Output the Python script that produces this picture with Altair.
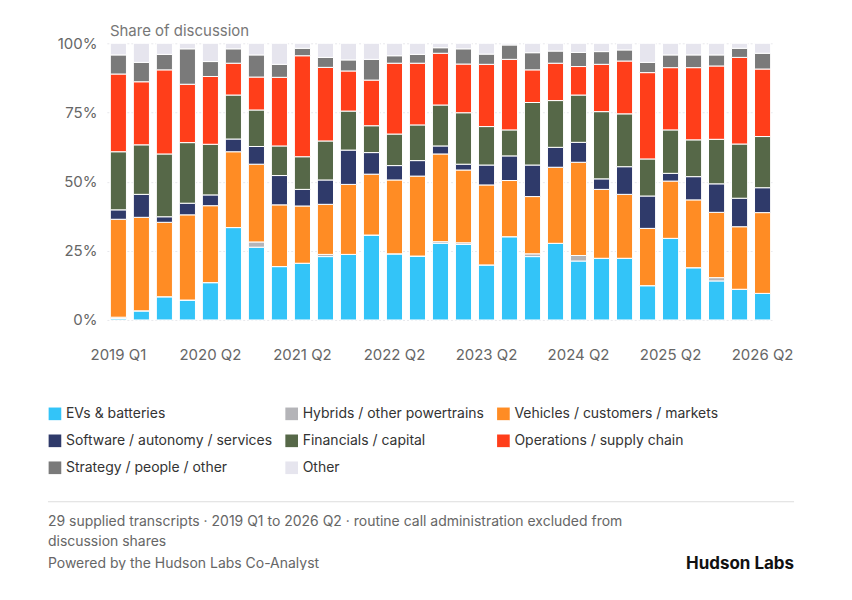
import pandas as pd
import altair as alt

quarters = ["2019 Q1", "2019 Q2", "2019 Q4", "2020 Q1", "2020 Q2", "2020 Q3", "2020 Q4",
            "2021 Q1", "2021 Q2", "2021 Q3", "2021 Q4", "2022 Q1", "2022 Q2", "2022 Q3",
            "2022 Q4", "2023 Q1", "2023 Q2", "2023 Q3", "2023 Q4", "2024 Q1", "2024 Q2",
            "2024 Q3", "2024 Q4", "2025 Q1", "2025 Q2", "2025 Q3", "2025 Q4", "2026 Q1",
            "2026 Q2"]
tick_labels = ["2019 Q1", "2020 Q2", "2021 Q2", "2022 Q2", "2023 Q2", "2024 Q2", "2025 Q2", "2026 Q2"]

categories = ["EVs & batteries", "Hybrids / other powertrains", "Vehicles / customers / markets",
              "Software / autonomy / services", "Financials / capital", "Operations / supply chain",
              "Strategy / people / other", "Other"]
colors = ["#33C4F8", "#B4B4B8", "#FF8C24", "#2F3A6A", "#566848", "#FF3E1A", "#7A7A7A", "#E6E5EE"]

ev = [0.5, 3.3, 8.4, 7.2, 13.5, 33.4, 26.3, 19.3, 20.5, 22.9, 23.7, 30.7, 23.9, 23.1, 27.7,
      27.3, 19.9, 30.1, 22.9, 27.7, 21.3, 22.3, 22.3, 12.4, 29.5, 18.9, 14.1, 11.1, 9.6]
hybrid = [0.5, 0, 0, 0, 0, 0, 1.9, 0, 0, 0.8, 0, 0, 0, 0, 0.6,
          0.6, 0, 0, 1.0, 0, 2.0, 0, 0, 0, 0, 0, 1.2, 0, 0]
vehicles = [35.4, 33.8, 26.9, 30.8, 27.8, 27.4, 28.1, 22.3, 20.7, 18.1, 25.3, 22.0, 26.7, 28.9, 31.7,
            26.3, 28.9, 20.3, 20.7, 27.5, 33.7, 24.9, 23.1, 20.7, 20.7, 24.5, 23.6, 22.6, 29.2]
software = [3.4, 8.3, 2.0, 4.2, 3.9, 4.6, 6.4, 10.6, 6.0, 8.8, 12.4, 7.8, 5.2, 5.6, 2.9,
            2.1, 7.2, 8.9, 11.4, 7.2, 7.2, 3.8, 10.0, 11.7, 2.8, 8.4, 10.3, 10.3, 9.0]
financials = [21.0, 17.9, 22.7, 21.9, 18.3, 15.9, 13.2, 10.7, 11.8, 14.1, 14.1, 9.7, 11.4, 12.9, 14.8,
              18.6, 13.9, 9.4, 22.6, 16.9, 17.1, 24.3, 19.1, 13.4, 15.7, 13.3, 16.1, 19.6, 18.5]
operations = [28.1, 22.8, 30.4, 21.1, 24.5, 11.5, 11.9, 24.8, 36.5, 26.6, 14.5, 16.5, 25.6, 22.3, 18.7,
              17.6, 22.5, 25.5, 11.8, 13.5, 10.3, 17.1, 19.1, 31.2, 22.5, 26.1, 26.5, 31.3, 24.4]
strategy = [6.9, 7.0, 5.6, 12.8, 5.4, 5.2, 8.0, 4.7, 2.7, 3.6, 4.0, 7.5, 2.7, 3.2, 2.0,
            5.5, 3.7, 5.2, 6.2, 4.4, 5.1, 4.6, 4.0, 3.7, 4.6, 4.6, 4.0, 3.3, 5.7]
other = [4.2, 6.9, 4.0, 2.0, 6.6, 2.0, 4.2, 7.6, 1.8, 5.1, 6.0, 5.8, 4.5, 4.0, 1.6,
         2.0, 3.9, 0.6, 3.4, 2.8, 3.3, 3.0, 2.4, 6.9, 4.2, 4.2, 4.2, 1.8, 3.6]

series = [ev, hybrid, vehicles, software, financials, operations, strategy, other]
rows = []
for ci, (cat, vals) in enumerate(zip(categories, series)):
    for q, v in zip(quarters, vals):
        rows.append({"Quarter": q, "Category": cat, "Share": v / 100, "Order": ci})
df = pd.DataFrame(rows)

# legend fills column by column, so reorder the domain to read row by row
legend_idx = [0, 3, 6, 1, 4, 7, 2, 5]
legend_domain = [categories[i] for i in legend_idx]
legend_range = [colors[i] for i in legend_idx]

FONT = "Inter"
W, H = 668, 277

bars = (
    alt.Chart(df)
    .mark_bar(stroke="white", strokeWidth=1)
    .encode(
        x=alt.X("Quarter:N", sort=quarters, title=None,
                scale=alt.Scale(paddingInner=0.3, paddingOuter=0.15),
                axis=alt.Axis(values=tick_labels, labelAngle=0, labelFontSize=15, labelColor="#666",
                              labelPadding=28, ticks=False, domain=False, labelFont=FONT)),
        y=alt.Y("Share:Q", stack="zero", title=None,
                scale=alt.Scale(domain=[0, 1]),
                axis=alt.Axis(format="%", values=[0, 0.25, 0.5, 0.75, 1], labelFontSize=15,
                              labelColor="#666", labelPadding=10, ticks=False, domain=False,
                              gridColor="#e8e8ec", gridDash=[2, 2], labelFont=FONT)),
        color=alt.Color("Category:N", scale=alt.Scale(domain=legend_domain, range=legend_range),
                        legend=alt.Legend(title=None, orient="none", legendX=-59, legendY=364,
                                          columns=3, symbolType="square", symbolSize=160,
                                          symbolStrokeWidth=0, labelFontSize=14, labelColor="#333",
                                          labelFont=FONT, columnPadding=12, rowPadding=13,
                                          labelLimit=300)),
        order=alt.Order("Order:Q", sort="ascending"),
    )
)

title_txt = alt.Chart(pd.DataFrame({"t": ["Share of discussion"]})).mark_text(
    align="left", baseline="middle", fontSize=15, color="#777", font=FONT
).encode(text="t:N", x=alt.value(3), y=alt.value(-12))

sep = alt.Chart(pd.DataFrame({"a": [0]})).mark_rule(color="#ddd", strokeWidth=1).encode(
    x=alt.value(-59), x2=alt.value(688), y=alt.value(459))

foot_lines = ["29 supplied transcripts · 2019 Q1 to 2026 Q2 · routine call administration excluded from",
              "discussion shares", "Powered by the Hudson Labs Co-Analyst"]
foot_y = [479, 499, 521]
foot = alt.Chart(pd.DataFrame({"t": foot_lines, "y": foot_y})).mark_text(
    align="left", baseline="middle", fontSize=14, color="#666", font=FONT
).encode(text="t:N", x=alt.value(-59), y=alt.Y("y:Q", scale=None))

brand = alt.Chart(pd.DataFrame({"t": ["Hudson Labs"]})).mark_text(
    align="right", baseline="middle", fontSize=17, fontWeight="bold", color="#111", font=FONT
).encode(text="t:N", x=alt.value(688), y=alt.value(521))

chart = (
    alt.layer(bars, title_txt, sep, foot, brand)
    .properties(width=W, height=H, autosize=alt.AutoSizeParams(type="none"),
                padding={"left": 99, "top": 35, "right": 70, "bottom": 250})
    .configure_view(stroke=None)
    .configure_axis(grid=True)
    .configure_axisX(grid=False)
)

chart.save("out.html", embed_options={"renderer": "svg", "actions": False})
